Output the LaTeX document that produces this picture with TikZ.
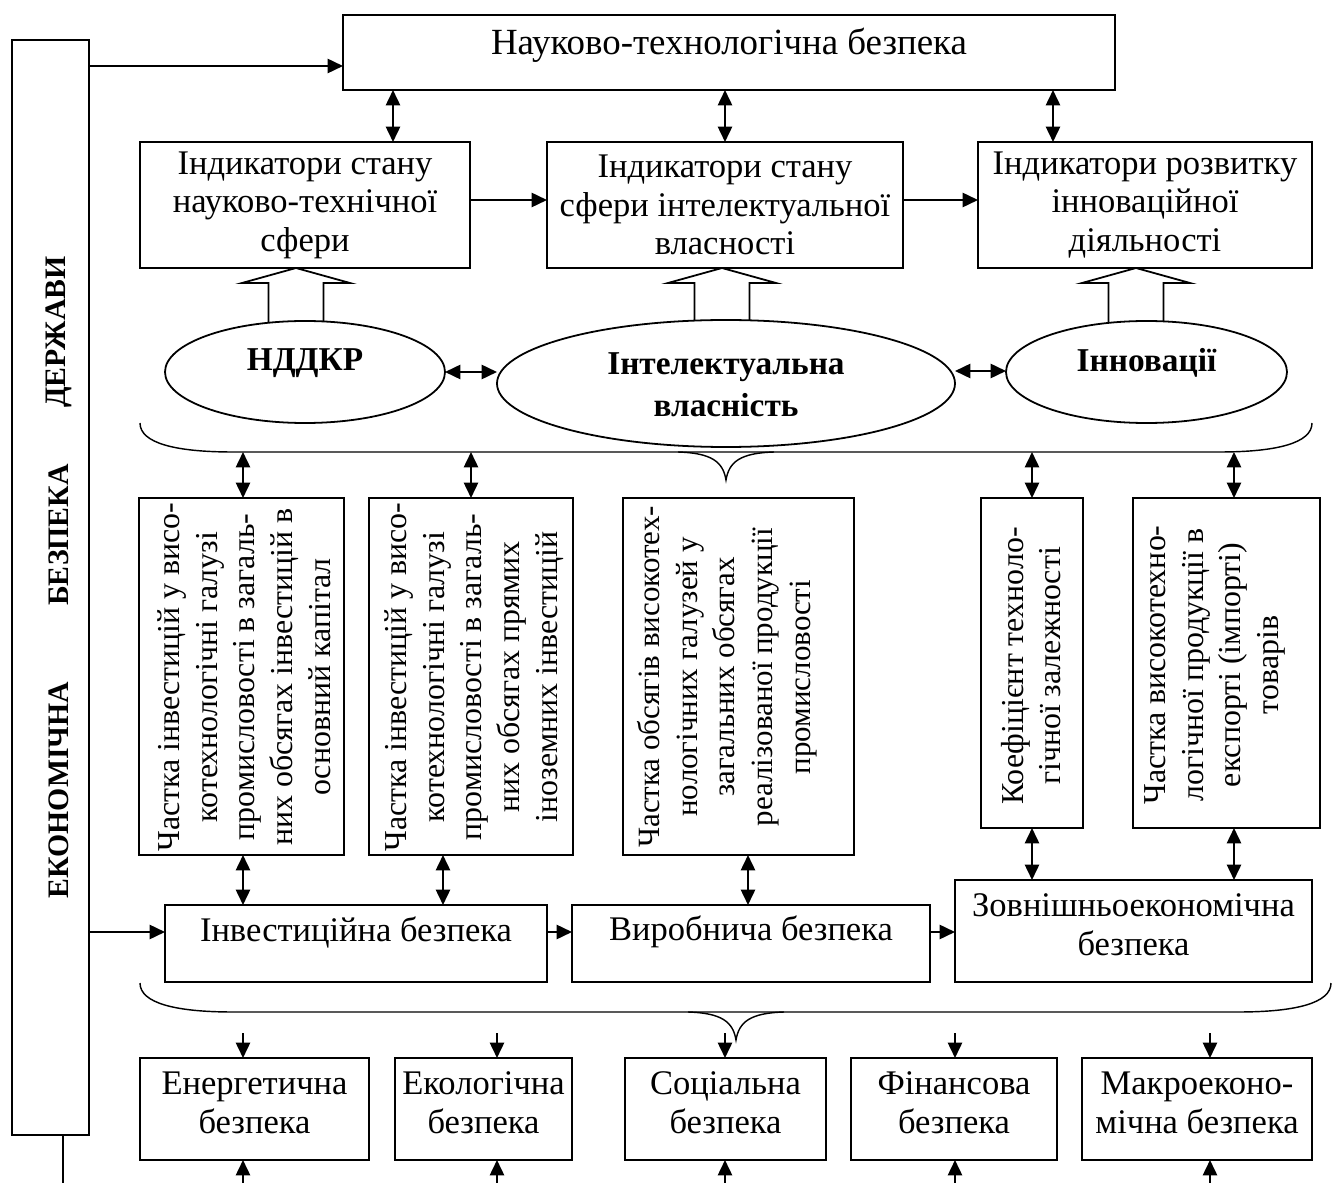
\documentclass[tikz,border=0pt]{standalone}
\usepackage{fontspec}
\setmainfont{Liberation Serif}
\usetikzlibrary{arrows.meta,shapes.geometric,calc}
\newcommand\hollowup[3]{%
  \draw[hollow] (#1-27.5,#3) -- (#1-27.5,#2+15) -- (#1-54,#2+15) -- (#1,#2) -- (#1+54,#2+15) -- (#1+27.5,#2+15) -- (#1+27.5,#3);}
\begin{document}
\begin{tikzpicture}[x=0.42pt,y=-0.42pt,
  box/.style={draw,line width=0.9pt,inner sep=0pt,outer sep=0pt,fill=white},
  ell/.style={draw,ellipse,line width=0.75pt,inner sep=0pt,outer sep=0pt,fill=white},
  txt/.style={align=center,inner sep=0pt,font=\fontsize{14.5}{16.2}\selectfont},
  vtxt/.style={align=center,inner sep=0pt,rotate=90,font=\fontsize{13.4}{15.8}\selectfont},
  btxt/.style={align=center,inner sep=0pt,font=\bfseries\fontsize{14}{17.5}\selectfont},
  bartxt/.style={inner sep=0pt,rotate=90,font=\bfseries\fontsize{12.5}{14}\selectfont},
  arr/.style={line width=0.9pt,-{Triangle[length=6.5pt,width=6pt]}},
  darr/.style={line width=0.9pt,{Triangle[length=6.5pt,width=6pt]}-{Triangle[length=6.5pt,width=6pt]}},
  brace/.style={line width=0.6pt},
  hollow/.style={line width=0.75pt,line join=miter}
]
\useasboundingbox (0,0) rectangle (1332,1183);

% left bar
\node[box,minimum width=32.34pt,minimum height=459.9pt] (bar) at (50.5,587.5) {};
\node[bartxt] (bw1) at (59,332) {ДЕРЖАВИ};
\node[bartxt] (bw2) at (59,535) {БЕЗПЕКА};
\node[bartxt] (bw3) at (59,790) {ЕКОНОМІЧНА};

% top box
\node[box,minimum width=324.24pt,minimum height=31.5pt] (top) at (729,52.5) {};
\node[txt,font=\fontsize{15.5}{17}\selectfont] (ttop) at (729,45) {Науково-технологічна безпека};

% indicator boxes
\node[box,txt,minimum width=138.6pt,minimum height=52.92pt] (b1) at (305,205) {Індикатори стану\\науково-технічної\\сфери};
\node[box,txt,minimum width=149.52pt,minimum height=52.92pt] (b2) at (725,205) {Індикатори стану\\сфери інтелектуальної\\власності};
\node[box,txt,minimum width=140.28pt,minimum height=52.92pt] (b3) at (1145,205) {Індикатори розвитку\\інноваційної\\діяльності};

% hollow arrows
\hollowup{296}{268}{335}
\hollowup{722}{268}{335}
\hollowup{1136}{268}{335}

% ellipses
\node[ell,minimum width=117.6pt,minimum height=42.84pt] (e1) at (305,372) {};
\node[btxt] (te1) at (305,363) {НДДКР};
\node[ell,minimum width=192.36pt,minimum height=53.34pt] (e2) at (726,383.5) {};
\node[btxt] (te2) at (726,385) {Інтелектуальна\\власність};
\node[ell,minimum width=118.02pt,minimum height=42.84pt] (e3) at (1146.5,372) {};
\node[btxt] (te3) at (1146.5,363) {Інновації};

% vertical boxes
\node[box,minimum width=86.1pt,minimum height=149.94pt] (v1) at (241.5,676.5) {};
\node[box,minimum width=85.68pt,minimum height=149.94pt] (v2) at (471,676.5) {};
\node[box,minimum width=97.02pt,minimum height=149.94pt] (v3) at (738.5,676.5) {};
\node[box,minimum width=42.84pt,minimum height=138.6pt] (v4) at (1032,663) {};
\node[box,minimum width=78.54pt,minimum height=138.6pt] (v5) at (1226.5,663) {};
\node[vtxt] (tv1) at (244,677) {Частка інвестицій у висо-\\котехнологічні галузі\\промисловості в загаль-\\них обсягах інвестицій в\\основний капітал};
\node[vtxt] (tv2) at (474,677) {Частка інвестицій у висо-\\котехнологічні галузі\\промисловості в загаль-\\них обсягах прямих\\іноземних інвестицій};
\node[vtxt,font=\fontsize{13}{15.8}\selectfont] (tv3) at (727,677) {Частка обсягів високотех-\\нологічних галузей у\\загальних обсягах\\реалізованої продукції\\промисловості};
\node[vtxt] (tv4) at (1031,666) {Коефіцієнт техноло-\\гічної залежності};
\node[vtxt] (tv5) at (1215,665) {Частка високотехно-\\логічної продукції в\\експорті (імпорті)\\товарів};

% middle row
\node[box,minimum width=160.44pt,minimum height=32.34pt] (inv) at (356,943.5) {};
\node[txt] (tinv) at (356,932) {Інвестиційна безпека};
\node[box,minimum width=150.36pt,minimum height=32.34pt] (vyr) at (751,943.5) {};
\node[txt] (tvyr) at (751,932) {Виробнича безпека};
\node[box,minimum width=149.94pt,minimum height=42.84pt] (zovn) at (1133.5,931) {};
\node[txt] (tzovn) at (1133.5,925) {Зовнішньоекономічна\\безпека};

% bottom row
\node[box,minimum width=96.18pt,minimum height=42.84pt] (en) at (254.5,1109) {};
\node[txt] (ten) at (254.5,1103) {Енергетична\\безпека};
\node[box,minimum width=74.34pt,minimum height=42.84pt] (ek) at (483.5,1109) {};
\node[txt] (tek) at (483.5,1103) {Екологічна\\безпека};
\node[box,minimum width=84.42pt,minimum height=42.84pt] (so) at (725.5,1109) {};
\node[txt] (tso) at (725.5,1103) {Соціальна\\безпека};
\node[box,minimum width=86.52pt,minimum height=42.84pt] (fi) at (954,1109) {};
\node[txt] (tfi) at (954,1103) {Фінансова\\безпека};
\node[box,minimum width=96.6pt,minimum height=42.84pt] (ma) at (1197,1109) {};
\node[txt] (tma) at (1197,1103) {Макроеконо-\\мічна безпека};

% connectors top part
\draw[arr] (bar.east |- 0,66) -- (top.west |- 0,66);
\draw[darr] (393,0 |- top.south) -- (393,0 |- b1.north);
\draw[darr] (725,0 |- top.south) -- (725,0 |- b2.north);
\draw[darr] (1053,0 |- top.south) -- (1053,0 |- b3.north);
\draw[arr] (b1.east |- 0,200) -- (b2.west |- 0,200);
\draw[arr] (b2.east |- 0,200) -- (b3.west |- 0,200);
\draw[darr] (e1.east) -- (e2.west |- e1.east);
\draw[darr] (e2.east |- 0,371) -- (e3.west |- 0,371);

% upper brace
\draw[brace] (140,423) .. controls (140,443) and (175,452) .. (233,452) -- (1219,452) .. controls (1277,452) and (1312,443) .. (1312,423);
\draw[brace] (678,452) .. controls (712,453) and (723,462) .. (726,480) .. controls (729,462) and (740,453) .. (774,452);
\coordinate (u1) at (243,452);
\coordinate (u2) at (471,452);
\coordinate (u4) at (1032,452);
\coordinate (u5) at (1234,452);
\draw[darr] (u1) -- (u1 |- v1.north);
\draw[darr] (u2) -- (u2 |- v2.north);
\draw[darr] (u4) -- (u4 |- v4.north);
\draw[darr] (u5) -- (u5 |- v5.north);

% vertical boxes to middle row
\draw[darr] (243,0 |- v1.south) -- (243,0 |- inv.north);
\draw[darr] (443,0 |- v2.south) -- (443,0 |- inv.north);
\draw[darr] (748,0 |- v3.south) -- (748,0 |- vyr.north);
\draw[darr] (1032,0 |- v4.south) -- (1032,0 |- zovn.north);
\draw[darr] (1234,0 |- v5.south) -- (1234,0 |- zovn.north);

\draw[arr] (bar.east |- 0,932) -- (inv.west |- 0,932);
\draw[arr] (inv.east |- 0,932) -- (vyr.west |- 0,932);
\draw[arr] (vyr.east |- 0,932) -- (zovn.west |- 0,932);

% lower brace
\draw[brace] (140,983) .. controls (140,1003) and (175,1012) .. (233,1012) -- (1238,1012) .. controls (1296,1012) and (1331,1003) .. (1331,983);
\draw[brace] (688,1012) .. controls (722,1013) and (733,1022) .. (736,1040) .. controls (739,1022) and (750,1013) .. (784,1012);

\coordinate (d1) at (243,1033);
\coordinate (d2) at (497,1033);
\coordinate (d3) at (725,1033);
\coordinate (d4) at (955,1033);
\coordinate (d5) at (1210,1033);
\draw[arr] (d1) -- (d1 |- en.north);
\draw[arr] (d2) -- (d2 |- ek.north);
\draw[arr] (d3) -- (d3 |- so.north);
\draw[arr] (d4) -- (d4 |- fi.north);
\draw[arr] (d5) -- (d5 |- ma.north);

\coordinate (f1) at (243,1183);
\coordinate (f2) at (497,1183);
\coordinate (f3) at (725,1183);
\coordinate (f4) at (955,1183);
\coordinate (f5) at (1210,1183);
\draw[arr] (f1) -- (f1 |- en.south);
\draw[arr] (f2) -- (f2 |- ek.south);
\draw[arr] (f3) -- (f3 |- so.south);
\draw[arr] (f4) -- (f4 |- fi.south);
\draw[arr] (f5) -- (f5 |- ma.south);

\coordinate (g0) at (63,1183);
\draw[line width=0.9pt] (63,0 |- bar.south) -- (g0);
\end{tikzpicture}
\end{document}
